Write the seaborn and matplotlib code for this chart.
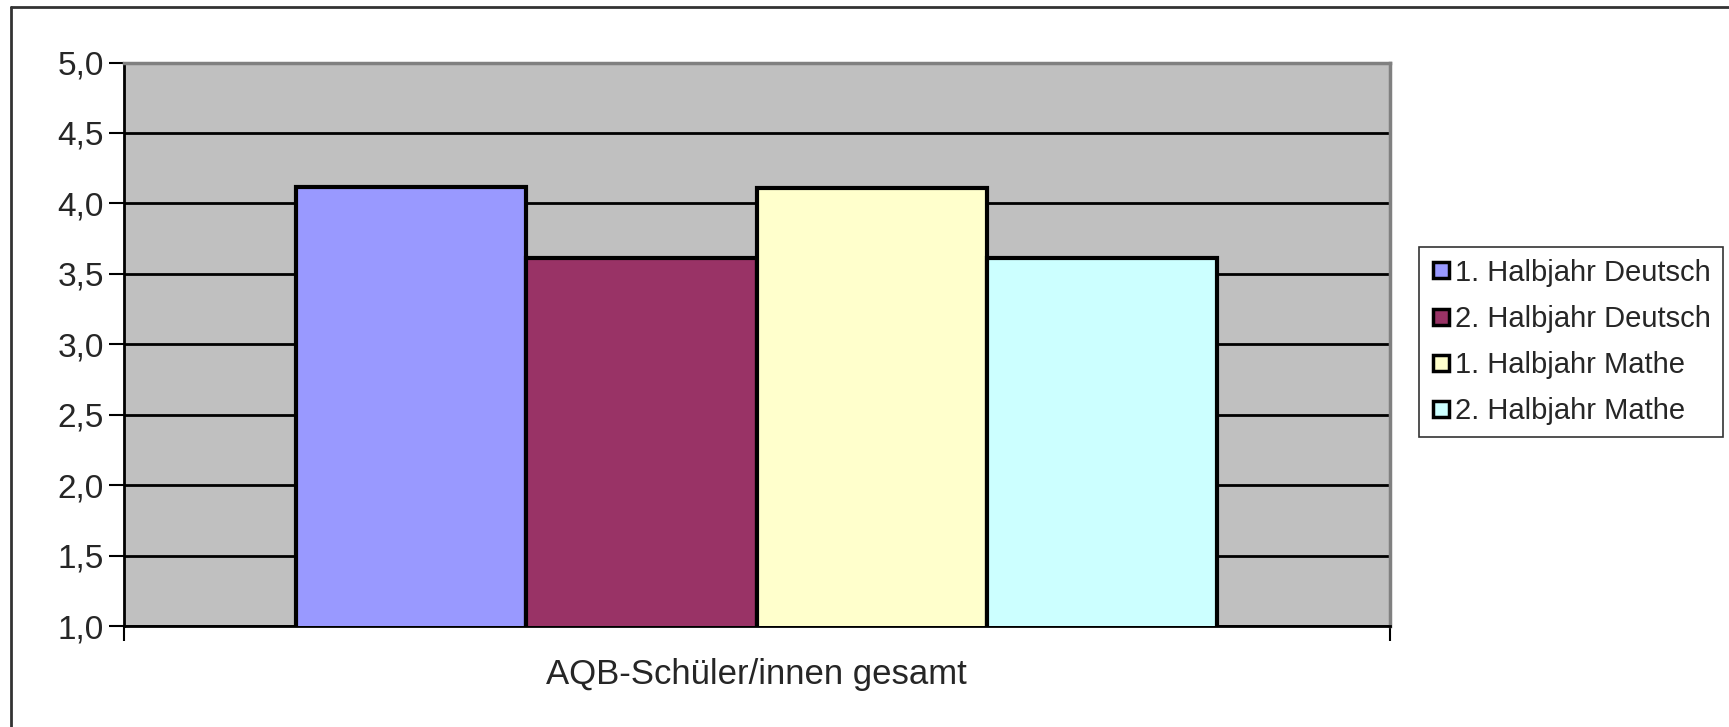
import matplotlib
matplotlib.use("Agg")
import matplotlib.pyplot as plt
import seaborn as sns
import pandas as pd
from matplotlib.lines import Line2D
from matplotlib.ticker import FuncFormatter

categories = ["AQB-Schüler/innen gesamt"]
series = ["1. Halbjahr Deutsch", "2. Halbjahr Deutsch", "1. Halbjahr Mathe", "2. Halbjahr Mathe"]
values = [4.12, 3.61, 4.11, 3.61]
colors = ["#9999ff", "#993366", "#ffffcc", "#ccffff"]
yticks = [1.0, 1.5, 2.0, 2.5, 3.0, 3.5, 4.0, 4.5, 5.0]

df = pd.DataFrame({"group": categories * len(series), "series": series, "value": values})

sns.set_style("white")
plt.rcParams['font.family'] = ['Liberation Sans', 'DejaVu Sans']

fig = plt.figure(figsize=(17.29, 7.27), dpi=100)
ax = fig.add_axes([123.5 / 1729, 1 - 626.3 / 727, (1389.5 - 123.5) / 1729, (626.3 - 62.5) / 727])
ax.set_facecolor("#c0c0c0")

sns.barplot(data=df, x="group", y="value", hue="series", palette=colors, saturation=1,
            width=0.728, gap=0, edgecolor="black", linewidth=3, ax=ax,
            legend=True, zorder=3)

ax.set_ylim(1.0, 5.0)
ax.set_xlim(-0.5, 0.5)
ax.set_yticks(yticks)
ax.yaxis.set_major_formatter(FuncFormatter(lambda v, p: f"{v:.1f}".replace(".", ",")))
ax.grid(axis="y", color="black", linewidth=2, zorder=1)
ax.set_axisbelow(True)
ax.set_xlabel("")
ax.set_ylabel("")

ax.tick_params(axis="y", which="major", direction="out", length=11, width=1.5,
               color="black", labelsize=24, pad=3, left=True)
ax.set_xticks([0])
ax.set_xticklabels(categories)
ax.set_xticks([-0.5, 0.5], minor=True)
ax.tick_params(axis="x", which="major", length=0, labelsize=25, pad=23)
ax.tick_params(axis="x", which="minor", direction="out", length=11, width=1.5,
               color="black", bottom=True)

for s in ["left", "bottom"]:
    ax.spines[s].set_color("black")
    ax.spines[s].set_linewidth(2)
for s in ["top", "right"]:
    ax.spines[s].set_color("#808080")
    ax.spines[s].set_linewidth(2.5)
    ax.spines[s].set_visible(True)

handles = [Line2D([0], [0], marker="s", linestyle="none", markersize=12,
                  markerfacecolor=c, markeredgecolor="black", markeredgewidth=2.5)
           for c in colors]
leg = ax.legend(handles, series, loc="upper left", bbox_to_anchor=(1419 / 1729, 1 - 247 / 727),
                bbox_transform=fig.transFigure, fontsize=21, frameon=True, fancybox=False,
                edgecolor="black", handletextpad=0.15, handlelength=0.7, borderpad=0.4,
                labelspacing=0.62, borderaxespad=0)
leg.get_frame().set_linewidth(1.2)

# outer frame
fig.add_artist(Line2D([11 / 1729, 1.0], [1 - 7 / 727, 1 - 7 / 727], transform=fig.transFigure,
                      color="#333333", linewidth=2))
fig.add_artist(Line2D([11 / 1729, 11 / 1729], [1 - 7 / 727, 0.0], transform=fig.transFigure,
                      color="#333333", linewidth=2))

fig.savefig("out.png", dpi=100)
